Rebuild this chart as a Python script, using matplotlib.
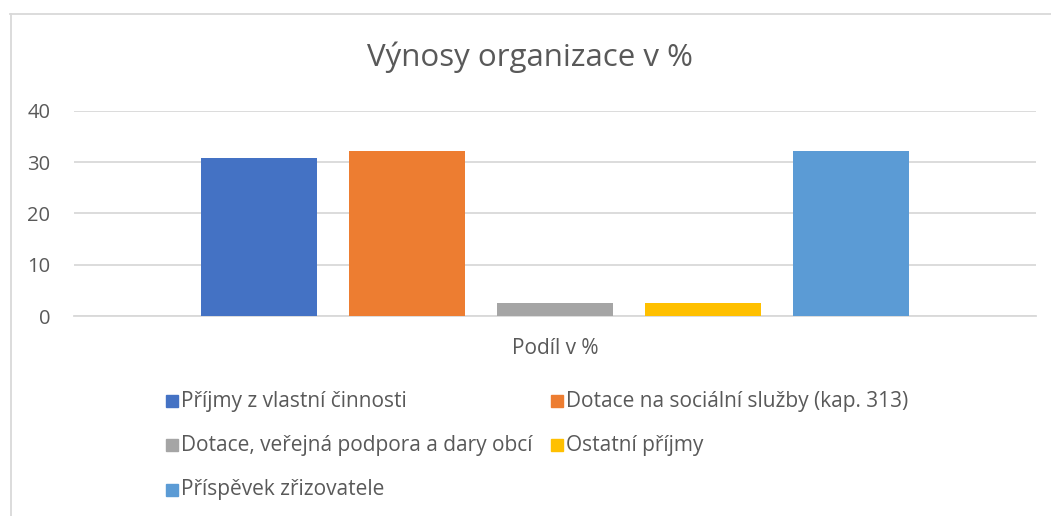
import matplotlib
matplotlib.use('Agg')
import matplotlib.pyplot as plt
from matplotlib.patches import Rectangle
from matplotlib.lines import Line2D

title = "Výnosy organizace v %"
category = "Podíl v %"
series = ["Příjmy z vlastní činnosti",
          "Dotace na sociální služby (kap. 313)",
          "Dotace, veřejná podpora a dary obcí",
          "Ostatní příjmy",
          "Příspěvek zřizovatele"]
values = [30.8, 32.2, 2.5, 2.5, 32.2]
colors = ["#4472C4", "#ED7D31", "#A5A5A5", "#FFC000", "#5B9BD5"]
yticks = [0, 10, 20, 30, 40]

FONT = ["Open Sans", "DejaVu Sans"]
plt.rcParams['font.family'] = FONT
TXT = "#595959"
GRID = "#D9D9D9"

W, H = 1051, 516
fig = plt.figure(figsize=(W / 100, H / 100), dpi=100)

# chart frame (left and top edges visible)
fig.add_artist(Line2D([10.5 / W, 10.5 / W], [0, 1 - 13.5 / H], transform=fig.transFigure,
                      color=GRID, lw=1.3))
fig.add_artist(Line2D([10 / W, 1], [1 - 13.5 / H, 1 - 13.5 / H], transform=fig.transFigure,
                      color=GRID, lw=1.3))

ax = fig.add_axes([74 / W, 1 - 316 / H, (1036 - 74) / W, (316 - 111) / H])
xs = list(range(len(values)))
ax.bar(xs, values, width=0.79, color=colors, zorder=3)
ax.set_xlim(-1.25, 5.25)
ax.set_ylim(0, 40)
ax.set_yticks(yticks)
ax.grid(axis='y', color=GRID, lw=1.3, zorder=0)
ax.set_axisbelow(True)
for s in ["top", "right", "left"]:
    ax.spines[s].set_visible(False)
ax.spines["bottom"].set_color(GRID)
ax.spines["bottom"].set_linewidth(1.3)
ax.tick_params(axis='y', length=0, pad=17, labelsize=14.5, labelcolor=TXT)
ax.set_xticks([2])
ax.set_xticklabels([category])
ax.tick_params(axis='x', length=0, pad=16, labelsize=15, labelcolor=TXT)

fig.text(530 / W, 1 - 57 / H, title, ha='center', va='center', fontsize=22.5, color=TXT)

# legend
pos = [(166, 401), (551, 401), (166, 445), (551, 445), (166, 490)]
for (px, py), name, c in zip(pos, series, colors):
    fig.add_artist(Rectangle((px / W, 1 - (py + 6) / H), 12 / W, 12 / H,
                             transform=fig.transFigure, color=c))
    fig.text((px + 15) / W, 1 - py / H, name, ha='left', va='center', fontsize=15, color=TXT)

fig.savefig("out.png", dpi=100)
